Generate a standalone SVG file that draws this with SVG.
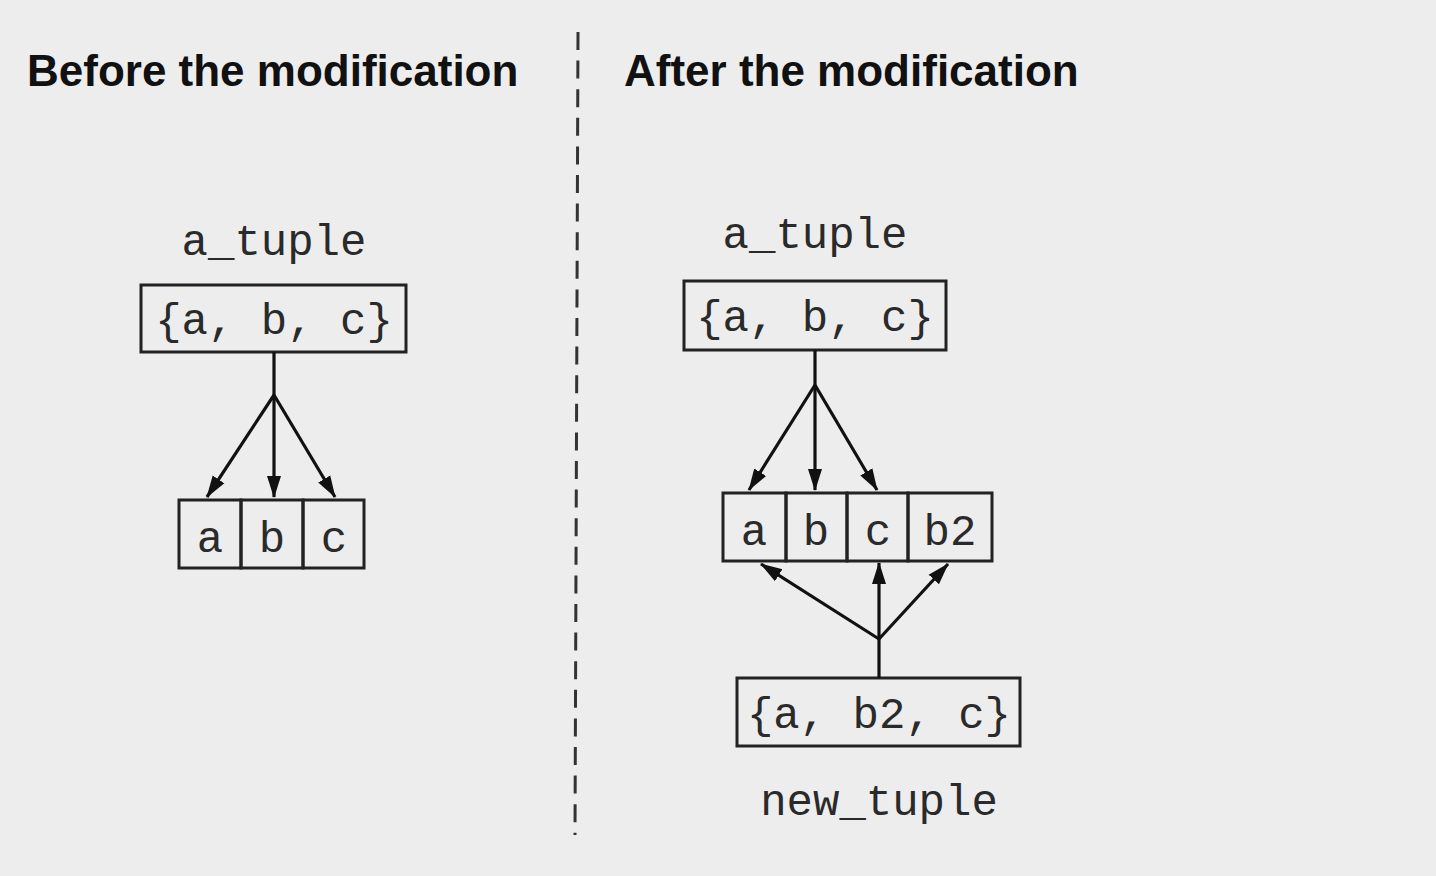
<svg xmlns="http://www.w3.org/2000/svg" width="1436" height="876" viewBox="0 0 1436 876">
<defs>
<marker id="ah" markerWidth="22" markerHeight="16" refX="21" refY="8" orient="auto" markerUnits="userSpaceOnUse" viewBox="0 0 22 16">
<path d="M0,1 L22,8 L0,15 z" fill="#111"/>
</marker>
<style>
.bg{fill:#ededed}
.box{fill:none;stroke:#222;stroke-width:3}
.mono{font-family:"Liberation Mono","Courier New",monospace;font-size:44px;fill:#2a2a2a;text-anchor:middle}
.head{font-family:"Liberation Sans",Arial,sans-serif;font-size:44px;font-weight:bold;fill:#111}
.edge{fill:none;stroke:#111;stroke-width:3.2}
.arr{fill:none;stroke:#111;stroke-width:3.2;marker-end:url(#ah)}
</style>
</defs>
<rect class="bg" x="0" y="0" width="1436" height="876"/>
<text class="head" x="27" y="86">Before the modification</text>
<text class="head" x="624" y="86">After the modification</text>
<line x1="578" y1="32" x2="575" y2="835" stroke="#333" stroke-width="3" stroke-dasharray="18 10.6"/>

<g id="left_a_tuple">
<text class="mono" x="274" y="255">a_tuple</text>
<rect class="box" x="141" y="285" width="265" height="67"/>
<text class="mono" x="274" y="334">{a, b, c}</text>
</g>
<g id="left_cells">
<rect class="box" x="179" y="500" width="62" height="68"/>
<rect class="box" x="241" y="500" width="62" height="68"/>
<rect class="box" x="303" y="500" width="61" height="68"/>
<text class="mono" x="210" y="552">a</text>
<text class="mono" x="272" y="552">b</text>
<text class="mono" x="334" y="552">c</text>
</g>

<g id="right_a_tuple">
<text class="mono" x="815" y="248">a_tuple</text>
<rect class="box" x="684" y="281" width="262" height="69"/>
<text class="mono" x="815" y="331">{a, b, c}</text>
</g>
<g id="right_cells">
<rect class="box" x="723" y="493" width="63" height="68"/>
<rect class="box" x="786" y="493" width="61" height="68"/>
<rect class="box" x="847" y="493" width="61" height="68"/>
<rect class="box" x="908" y="493" width="84" height="68"/>
<text class="mono" x="754" y="545">a</text>
<text class="mono" x="816" y="545">b</text>
<text class="mono" x="878" y="545">c</text>
<text class="mono" x="950" y="545">b2</text>
</g>
<g id="new_tuple">
<rect class="box" x="737" y="678" width="283" height="68"/>
<text class="mono" x="879" y="728">{a, b2, c}</text>
<text class="mono" x="879" y="815">new_tuple</text>
</g>

<g id="connectors">
<line class="edge" x1="274" y1="352" x2="274" y2="395"/>
<line class="arr" x1="274" y1="395" x2="207" y2="497"/>
<line class="arr" x1="274" y1="395" x2="274" y2="497"/>
<line class="arr" x1="274" y1="395" x2="335" y2="497"/>

<line class="edge" x1="815" y1="350" x2="815" y2="385"/>
<line class="arr" x1="815" y1="385" x2="749" y2="490"/>
<line class="arr" x1="815" y1="385" x2="815" y2="490"/>
<line class="arr" x1="815" y1="385" x2="877" y2="490"/>

<line class="edge" x1="879" y1="678" x2="879" y2="639"/>
<line class="arr" x1="879" y1="639" x2="761" y2="564"/>
<line class="arr" x1="879" y1="639" x2="879" y2="563"/>
<line class="arr" x1="879" y1="639" x2="948" y2="564"/>
</g>
</svg>
